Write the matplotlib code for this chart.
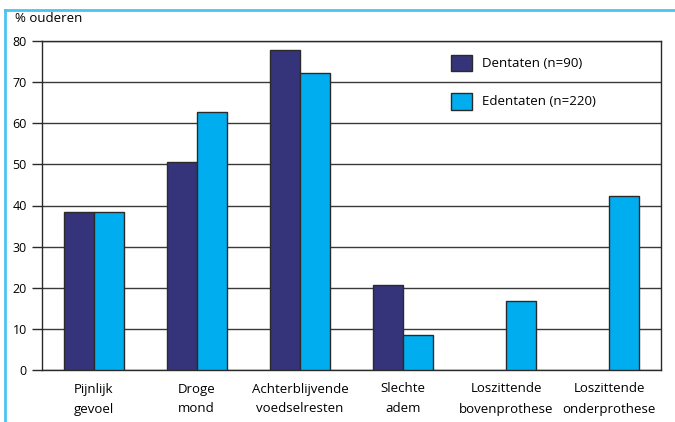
import numpy as np
import matplotlib.pyplot as plt
from matplotlib.lines import Line2D

# data
categories = ['Pijnlijk\ngevoel', 'Droge\nmond', 'Achterblijvende\nvoedselresten',
              'Slechte\nadem', 'Loszittende\nbovenprothese', 'Loszittende\nonderprothese']
dentaten = [38.4, 50.6, 77.9, 20.7, 0, 0]
edentaten = [38.4, 62.8, 72.3, 8.5, 16.8, 42.3]
labels = ['Dentaten (n=90)', 'Edentaten (n=220)']

navy = '#35337a'
cyan = '#00aeef'
edge = '#2a2a2a'

plt.rcParams['font.family'] = ['Open Sans', 'DejaVu Sans']

fig = plt.figure(figsize=(6.75, 4.22), dpi=100)
ax = fig.add_axes([42 / 675, 1 - 370 / 422, (661 - 42) / 675, (370 - 41) / 422])

x = np.arange(len(categories))
w = 0.29
b1 = ax.bar(x - w / 2, dentaten, w, color=navy, edgecolor=edge, linewidth=1.0, zorder=3)
b2 = ax.bar(x + w / 2, edentaten, w, color=cyan, edgecolor=edge, linewidth=1.0, zorder=3)
# no visible bar for zero values
for i, v in enumerate(dentaten):
    if v == 0:
        b1[i].set_visible(False)

ax.set_xlim(-0.5, len(categories) - 0.5)
ax.set_ylim(0, 80)
ax.set_yticks(range(0, 81, 10))
ax.set_xticks(x)
ax.set_xticklabels(categories, fontsize=9.5, linespacing=1.7)
ax.tick_params(axis='x', length=0, pad=9)
ax.tick_params(axis='y', length=7, width=1.0, color=edge, labelsize=9, pad=4)
ax.yaxis.grid(True, color='#3a3a3a', linewidth=1.0, zorder=0)
ax.set_axisbelow(True)
for s in ['left', 'right', 'top', 'bottom']:
    ax.spines[s].set_color(edge)
    ax.spines[s].set_linewidth(1.0)

fig.text(15 / 675, 1 - 18 / 422, '% ouderen', fontsize=9.5, va='center', ha='left')

# legend, boxes sitting between the gridlines
handles = [plt.Rectangle((0, 0), 1, 1, facecolor=navy, edgecolor=edge),
           plt.Rectangle((0, 0), 1, 1, facecolor=cyan, edgecolor=edge)]
leg = ax.legend(handles, labels, loc='upper left', bbox_to_anchor=(0.642, 0.995),
                frameon=False, fontsize=9.5, handlelength=1.6, handleheight=1.6,
                labelspacing=1.6, handletextpad=0.75)

# light blue frame round the figure (top and left)
fig.add_artist(Line2D([5 / 675, 1], [1 - 10 / 422, 1 - 10 / 422], color='#4cc3ee',
                      linewidth=2, transform=fig.transFigure))
fig.add_artist(Line2D([5 / 675, 5 / 675], [0, 1 - 10 / 422], color='#4cc3ee',
                      linewidth=2, transform=fig.transFigure))

fig.savefig('out.png', dpi=100)
